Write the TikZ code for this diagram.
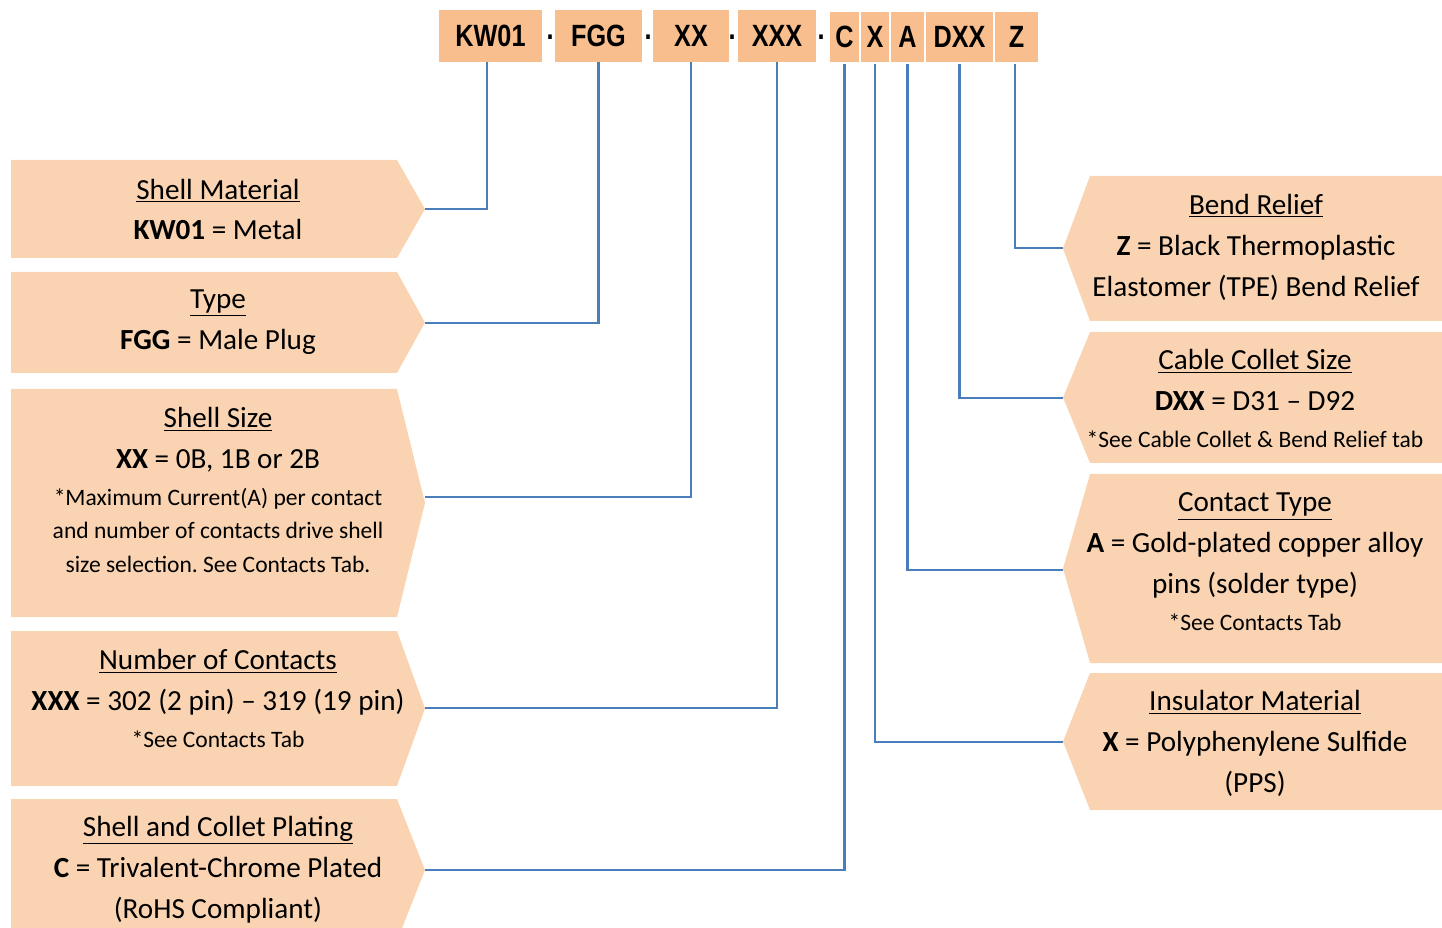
\documentclass[tikz,border=0pt]{standalone}
\usepackage{fontspec}
\setmainfont{Carlito}
\newfontfamily\codefont[FakeStretch=0.82]{Liberation Sans}
\usepackage{xcolor}
\usepackage{tikz}
\usetikzlibrary{calc}

\definecolor{tagfill}{HTML}{F8BE8D}
\definecolor{boxfill}{HTML}{FAD4B2}
\definecolor{linkblue}{HTML}{4A7EBB}
\newcommand{\sm}{\fontsize{13.4}{19.3}\selectfont}
\frenchspacing

\begin{document}
\begin{tikzpicture}[
  x=0.02cm, y=-0.02cm,
  tag/.style={fill=tagfill, minimum height=1.04cm, inner sep=0pt,
    font=\codefont\bfseries\fontsize{17.5}{20}\selectfont},
  tagg/.style={tag, draw=white, line width=0.6pt},
  sep/.style={inner sep=0pt, font=\codefont\bfseries\fontsize{17.5}{20}\selectfont},
  lbl/.style={align=center, inner sep=0pt, font=\fontsize{16.6}{23.3}\selectfont},
  link/.style={draw=linkblue, line width=1.3pt}
]
\useasboundingbox (0,0) rectangle (1442,928);
\clip (0,0) rectangle (1442,928);

%========== part number boxes ==========
\node[tag, minimum width=2.06cm] (kw)  at (490.5,36) {KW01};
\node[tag, minimum width=1.74cm] (fgg) at (598.5,36) {FGG};
\node[tag, minimum width=1.52cm] (xx)  at (691,36)   {XX};
\node[tag, minimum width=1.56cm] (xxx) at (777,36)   {XXX};
\node[tagg, minimum width=0.62cm] (c)   at (844.5,37)  {C};
\node[tagg, minimum width=0.60cm] (x)   at (875,37)    {X};
\node[tagg, minimum width=0.70cm] (a)   at (907.5,37)  {A};
\node[tagg, minimum width=1.38cm] (dxx) at (959.5,37)  {DXX};
\node[tagg, minimum width=0.90cm] (z)   at (1016.5,37) {Z};
% separating dots
\node[sep] (dA) at (550,37) {.};
\node[sep] (dB) at (648,37) {.};
\node[sep] (dC) at (732,37) {.};
\node[sep] (dD) at (821,37) {.};

%========== left arrow boxes ==========
\foreach \ya/\yb in {160/258, 272/373, 389/617, 631/786, 799/941}{%
  \fill[boxfill] (11,\ya) -- (397,\ya) -- (425,{(\ya+\yb)/2}) -- (397,\yb) -- (11,\yb) -- cycle;}
\coordinate (matTip)  at (425,209);
\coordinate (typeTip) at (425,323);
\coordinate (sizeTip) at (425,497);
\coordinate (numTip)  at (425,708);
\coordinate (platTip) at (425,870);

\node[lbl] (matLbl) at (218,209.5) {\underline{Shell Material}\\\textbf{KW01} = Metal};
\node[lbl] (typeLbl) at (218,322) {\underline{Type}\\\textbf{FGG} = Male Plug};
\node[lbl] (sizeLbl) at (218,490) {\underline{Shell Size}\\\textbf{XX} = 0B, 1B or 2B\\[-2.3pt]
  {\sm *Maximum Current(A) per contact}\\[-4pt]{\sm and number of contacts drive shell}\\[-4pt]
  {\sm size selection. See Contacts Tab.}};
\node[lbl] (numLbl) at (218,698.5) {\underline{Number of Contacts}\\\textbf{XXX} = 302 (2 pin) – 319 (19 pin)\\[-2.3pt]
  {\sm *See Contacts Tab}};
\node[lbl] (platLbl) at (218,869.5) {\underline{Shell and Collet Plating}\\\textbf{C} = Trivalent-Chrome Plated\\(RoHS Compliant)};

%========== right arrow boxes ==========
\foreach \ya/\yb in {176/321, 332/463, 474/663, 673/810}{%
  \fill[boxfill] (1450,\ya) -- (1090,\ya) -- (1063,{(\ya+\yb)/2}) -- (1090,\yb) -- (1450,\yb) -- cycle;}
\coordinate (bendTip) at (1063,248);
\coordinate (colTip)  at (1063,398);
\coordinate (ctTip)   at (1063,570);
\coordinate (insTip)  at (1063,742);

\node[lbl] (bendLbl) at (1256,247) {\underline{Bend Relief}\\\textbf{Z} = Black Thermoplastic\\Elastomer (TPE) Bend Relief};
\node[lbl] (colLbl) at (1255,398.5) {\underline{Cable Collet Size}\\\textbf{DXX} = D31 – D92\\[-2.3pt]
  {\sm *See Cable Collet \& Bend Relief tab}};
\node[lbl] (ctLbl) at (1255,562) {\underline{Contact Type}\\\textbf{A} = Gold-plated copper alloy\\pins (solder type)\\[-2.3pt]
  {\sm *See Contacts Tab}};
\node[lbl] (insLbl) at (1255,743.5) {\underline{Insulator Material}\\\textbf{X} = Polyphenylene Sulfide\\(PPS)};

%========== connectors ==========
\draw[link] ([xshift=-0.07cm]kw.south) |- (matTip);
\draw[link] (fgg.south) |- (typeTip);
\draw[link] (xx.south)  |- (sizeTip);
\draw[link] (xxx.south) |- (numTip);
\draw[link] (c.south)   |- (platTip);
\draw[link] (x.south)   |- (insTip);
\draw[link] (a.south)   |- (ctTip);
\draw[link] (dxx.south) |- (colTip);
\draw[link] ([xshift=-0.03cm]z.south) |- (bendTip);
\end{tikzpicture}
\end{document}
